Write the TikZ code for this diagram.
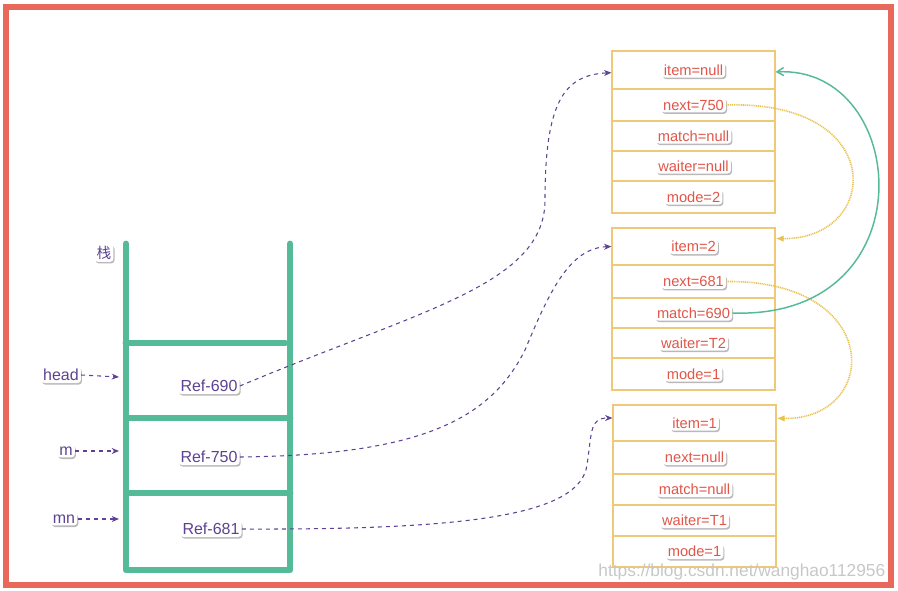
\documentclass[tikz,border=0pt]{standalone}
\usepackage{fontspec}
\setmainfont{Liberation Sans}
\newfontfamily\cjk{Noto Sans CJK SC}
\usetikzlibrary{arrows.meta,shadows}
\definecolor{frame}{HTML}{E8695B}
\definecolor{rail}{HTML}{55BA97}
\definecolor{ptr}{HTML}{5E4392}
\definecolor{cellline}{HTML}{EFC977}
\definecolor{field}{HTML}{E0574A}
\definecolor{link}{HTML}{E9C14E}
\tikzset{
  tag/.style={fill=white, rounded corners=2.5pt, inner sep=1.6pt,
    drop shadow={shadow xshift=0.8pt, shadow yshift=-1.2pt, fill=black!55},
    font=\fontsize{11}{13}\selectfont},
  big/.style={font=\fontsize{12}{14}\selectfont},
  cell/.style={draw=cellline, line width=0.9pt, minimum width=122.25pt, inner sep=0pt},
  ref/.style={ptr, dashed, line width=0.8pt, -{Stealth[length=5.5pt,width=4.5pt]}},
  nxt/.style={link, line width=1.2pt, dash pattern=on 0.8pt off 0.6pt, -{Latex[length=6pt,width=5pt]}},
  mtc/.style={rail, line width=1.1pt, -{Straight Barb[length=5pt,width=6pt]}}
}
\begin{document}
\begin{tikzpicture}[x=0.75pt,y=-0.75pt]
			%%%%% START %%%%%
			\useasboundingbox (0,0) rectangle (898,591);
			\draw[frame, line width=3.8pt] (6,7) rectangle (891,585);
			
			% stack
			\draw[rail, line width=5.2pt, line cap=round, line join=round] (126,244) -- (126,570) -- (290,570) -- (290,244);
			\draw[rail, line width=5.2pt, line cap=round] (126,343) -- (285,343);
			\draw[rail, line width=5.2pt, line cap=round] (129,418) -- (290,418);
			\draw[rail, line width=5.2pt, line cap=round] (129,493) -- (290,493);
			\node[tag, text=ptr, font=\cjk\fontsize{11}{13}\selectfont] (stack) at (104,253) {栈};
			
			\node[tag, big, text=ptr] (head) at (61,375) {head};
			\node[tag, big, text=ptr] (m) at (66,451) {m};
			\node[tag, big, text=ptr] (mn) at (64,519) {mn};
			\coordinate (headend) at (119,377);
			\coordinate (mend) at (119,451);
			\coordinate (mnend) at (119,519);
			\draw[ref] (head.east) -- (headend);
			\draw[ref] (m.east) -- (mend);
			\draw[ref] (mn.east) -- (mnend);
			
			\node[tag, big, text=ptr] (ref690) at (209,386) {Ref-690};
			\node[tag, big, text=ptr] (ref750) at (209,457) {Ref-750};
			\node[tag, big, text=ptr] (ref681) at (211,529) {Ref-681};
			
			% node 690
			\node[cell, minimum height=28.5pt] (a1) at (693.5,70) {};
			\node[cell, minimum height=24pt] (a2) at (693.5,105) {};
			\node[cell, minimum height=22.5pt] (a3) at (693.5,136) {};
			\node[cell, minimum height=22.5pt] (a4) at (693.5,166) {};
			\node[cell, minimum height=24pt] (a5) at (693.5,197) {};
			\node[tag, text=field] (aitem) at (a1) {item=null};
			\node[tag, text=field] (anext) at (a2) {next=750};
			\node[tag, text=field] (amatch) at (a3) {match=null};
			\node[tag, text=field] (awaiter) at (a4) {waiter=null};
			\node[tag, text=field] (amode) at (a5) {mode=2};
			
			% node 750
			\node[cell, minimum height=27.75pt] (b1) at (693.5,246.5) {};
			\node[cell, minimum height=24.75pt] (b2) at (693.5,281.5) {};
			\node[cell, minimum height=22.5pt] (b3) at (693.5,313) {};
			\node[cell, minimum height=22.5pt] (b4) at (693.5,343) {};
			\node[cell, minimum height=24pt] (b5) at (693.5,374) {};
			\node[tag, text=field] (bitem) at (b1) {item=2};
			\node[tag, text=field] (bnext) at (b2) {next=681};
			\node[tag, text=field] (bmatch) at (b3) {match=690};
			\node[tag, text=field] (bwaiter) at (b4) {waiter=T2};
			\node[tag, text=field] (bmode) at (b5) {mode=1};
			
			% node 681
			\node[cell, minimum height=27pt] (c1) at (694.5,423) {};
			\node[cell, minimum height=24.75pt] (c2) at (694.5,457.5) {};
			\node[cell, minimum height=23.25pt] (c3) at (694.5,489.5) {};
			\node[cell, minimum height=23.25pt] (c4) at (694.5,520.5) {};
			\node[cell, minimum height=23.25pt] (c5) at (694.5,551.5) {};
			\node[tag, text=field] (citem) at (c1) {item=1};
			\node[tag, text=field] (cnext) at (c2) {next=null};
			\node[tag, text=field] (cmatch) at (c3) {match=null};
			\node[tag, text=field] (cwaiter) at (c4) {waiter=T1};
			\node[tag, text=field] (cmode) at (c5) {mode=1};
			
			% references
			\draw[ref] (ref690.east) .. controls (420,310) and (545,285) .. (545,200) .. controls (545,100) and (565,75) .. ([yshift=-2pt]a1.west);
			\draw[ref] (ref750.east) .. controls (420,455) and (490,420) .. (525,350) .. controls (550,290) and (570,248) .. (b1.west);
			\draw[ref] (ref681.east) .. controls (470,530) and (580,515) .. (587,465) .. controls (592,430) and (590,418) .. ([yshift=3.75pt]c1.west);
			
			\draw[nxt] (anext.east) .. controls (890,100) and (880,240) .. ([yshift=6pt]b1.east);
			\draw[nxt] (bnext.east) .. controls (885,280) and (880,420) .. ([yshift=3.5pt]c1.east);
			\draw[mtc] (bmatch.east) .. controls (930,320) and (910,65) .. ([yshift=-1.5pt]a1.east);
			
			\node[text=black!22, font=\fontsize{13}{15}\selectfont, anchor=east] (mark) at (890,572) {https://blog.csdn.net/wanghao112956};
			%%%%% END %%%%%
		\end{tikzpicture}
\end{document}
